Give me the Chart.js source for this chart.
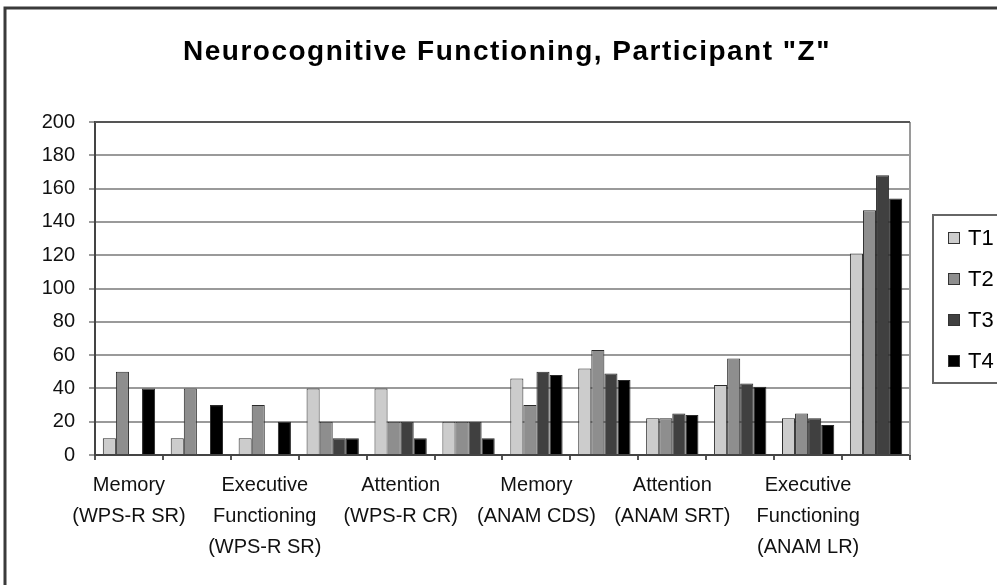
<!DOCTYPE html>
<html>
<head>
<meta charset="utf-8">
<script src="https://cdn.jsdelivr.net/npm/chart.js@4/dist/chart.umd.min.js"></script>
<style>
  html, body { margin: 0; padding: 0; background: #fff; }
  #wrap { width: 997px; height: 585px; position: relative; }
</style>
</head>
<body>
<div id="wrap"><canvas id="myChart" width="997" height="585"></canvas></div>
<script>
// 12 groups on the axis, Excel only printed every other label
const categories = [
  ['Memory', '(WPS-R SR)'], '',
  ['Executive', 'Functioning', '(WPS-R SR)'], '',
  ['Attention', '(WPS-R CR)'], '',
  ['Memory', '(ANAM CDS)'], '',
  ['Attention', '(ANAM SRT)'], '',
  ['Executive', 'Functioning', '(ANAM LR)'], ''
]
const t1 = [10, 10, 10, 40, 40, 20, 46, 52, 22, 42, 22, 121]
const t2 = [50, 40, 30, 20, 20, 20, 30, 63, 22, 58, 25, 147]
const t3 = [null, null, null, 10, 20, 20, 50, 49, 25, 43, 22, 168]
const t4 = [40, 30, 20, 10, 10, 10, 48, 45, 24, 41, 18, 154]
const seriesNames = ['T1', 'T2', 'T3', 'T4']
const yTicks = [0, 20, 40, 60, 80, 100, 120, 140, 160, 180, 200]
const chartTitle = 'Neurocognitive Functioning, Participant "Z"'

const fillColors = ['#cccccc', '#8e8e8e', '#404040', '#000000']
const FONT = "'Liberation Sans', Arial, sans-serif"
Chart.defaults.font.family = FONT
Chart.defaults.color = '#000'

// outer frame, title, plot frame and legend box
const decor = {
  id: 'decor',
  beforeDraw(chart) {
    const ctx = chart.ctx
    ctx.save()
    ctx.fillStyle = '#fff'
    ctx.fillRect(0, 0, chart.width, chart.height)
    ctx.strokeStyle = '#3a3a3a'
    ctx.lineWidth = 3
    ctx.beginPath()
    ctx.moveTo(5, chart.height)
    ctx.lineTo(5, 8)
    ctx.lineTo(chart.width, 8)
    ctx.stroke()

    ctx.fillStyle = '#000'
    ctx.font = 'bold 28px ' + FONT
    ctx.letterSpacing = '1.5px'
    ctx.textAlign = 'center'
    ctx.textBaseline = 'alphabetic'
    ctx.fillText(chartTitle, 507, 60)
    ctx.restore()
  },
  afterDatasetsDraw(chart) {
    const ctx = chart.ctx
    const a = chart.chartArea
    ctx.save()
    ctx.lineWidth = 2
    ctx.strokeStyle = '#9a9a9a'
    ctx.beginPath()
    ctx.moveTo(a.right, a.top)
    ctx.lineTo(a.right, a.bottom)
    ctx.stroke()
    ctx.strokeStyle = '#555'
    ctx.beginPath()
    ctx.moveTo(a.left, a.top)
    ctx.lineTo(a.right, a.top)
    ctx.stroke()

    // legend
    const lx = 933, ly = 215, lw = 80, lh = 168
    ctx.strokeStyle = '#666'
    ctx.lineWidth = 2
    ctx.strokeRect(lx, ly, lw, lh)
    ctx.font = '22px ' + FONT
    ctx.textBaseline = 'middle'
    chart.data.datasets.forEach((ds, i) => {
      const cy = 238 + i * 41
      ctx.fillStyle = ds.backgroundColor
      ctx.fillRect(948, cy - 6, 12, 12)
      ctx.strokeStyle = '#333'
      ctx.lineWidth = 1
      ctx.strokeRect(948.5, cy - 5.5, 11, 11)
      ctx.fillStyle = '#000'
      ctx.fillText(ds.label, 968, cy + 1)
    })
    ctx.restore()
  }
}

const data = {
  labels: categories,
  datasets: [t1, t2, t3, t4].map((vals, i) => ({
    label: seriesNames[i],
    data: vals,
    backgroundColor: fillColors[i],
    borderColor: '#2a2a2a',
    borderWidth: 1,
    categoryPercentage: 0.77,
    barPercentage: 1.0
  }))
}

const config = {
  type: 'bar',
  data: data,
  options: {
    responsive: false,
    animation: false,
    layout: { padding: { left: 0, right: 87, top: 122, bottom: 0 } },
    plugins: {
      legend: { display: false },
      tooltip: { enabled: false },
      title: { display: false }
    },
    scales: {
      x: {
        grid: { offset: true, drawOnChartArea: false, drawTicks: true, tickLength: 5, color: '#555', lineWidth: 2 },
        border: { display: true, color: '#444', width: 2 },
        ticks: { autoSkip: false, maxRotation: 0, padding: 10, font: { size: 20, lineHeight: 1.55 }, color: '#111' },
        afterFit(scale) { scale.height = 130 }
      },
      y: {
        min: 0,
        max: 200,
        afterBuildTicks(scale) { scale.ticks = yTicks.map(v => ({ value: v })) },
        grid: { color: '#9a9a9a', lineWidth: 2, tickLength: 6, drawTicks: true },
        border: { display: true, color: '#444', width: 2 },
        ticks: { padding: 14, font: { size: 20 }, color: '#111' },
        afterFit(scale) { scale.width = 95 }
      }
    }
  },
  plugins: [decor]
}

const myChart = new Chart(document.getElementById('myChart'), config)
</script>
</body>
</html>
